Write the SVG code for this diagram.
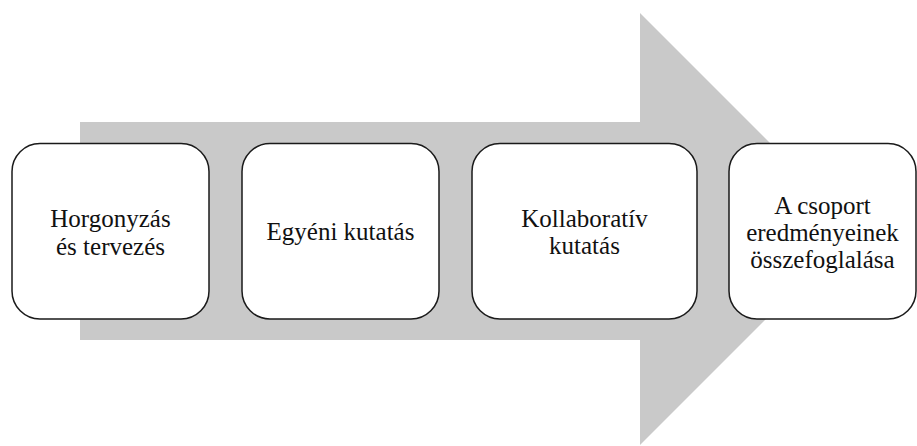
<svg xmlns="http://www.w3.org/2000/svg" width="917" height="446" viewBox="0 0 917 446">
  <style>
    .arrow { fill: #c9c9c9; }
    .box { fill: #ffffff; stroke: #1a1a1a; stroke-width: 1.5; }
    .label { font-size: 25px; fill: #111111; text-anchor: middle; }
  </style>
  <rect width="917" height="446" fill="#ffffff"/>
  <!-- background process arrow -->
  <g id="connectors">
    <polygon class="arrow" points="80,122 640,122 640,13 856,229 640,445 640,340 80,340"/>
  </g>
  <g font-family="'Liberation Serif', 'DejaVu Serif', serif">
    <g id="step1">
      <rect class="box" x="12" y="143.5" width="197" height="175.5" rx="28" ry="28"/>
      <text class="label" x="110.5" y="227">Horgonyzás</text>
      <text class="label" x="110.5" y="255">és tervezés</text>
    </g>
    <g id="step2">
      <rect class="box" x="242" y="143.5" width="197" height="175.5" rx="28" ry="28"/>
      <text class="label" x="340.5" y="240">Egyéni kutatás</text>
    </g>
    <g id="step3">
      <rect class="box" x="472" y="143.5" width="225" height="175.5" rx="28" ry="28"/>
      <text class="label" x="584.5" y="226.5">Kollaboratív</text>
      <text class="label" x="584.5" y="254">kutatás</text>
    </g>
    <g id="step4">
      <rect class="box" x="729" y="143.5" width="187" height="175.5" rx="28" ry="28"/>
      <text class="label" x="822.5" y="214">A csoport</text>
      <text class="label" x="822.5" y="241">eredményeinek</text>
      <text class="label" x="822.5" y="268">összefoglalása</text>
    </g>
  </g>
</svg>
